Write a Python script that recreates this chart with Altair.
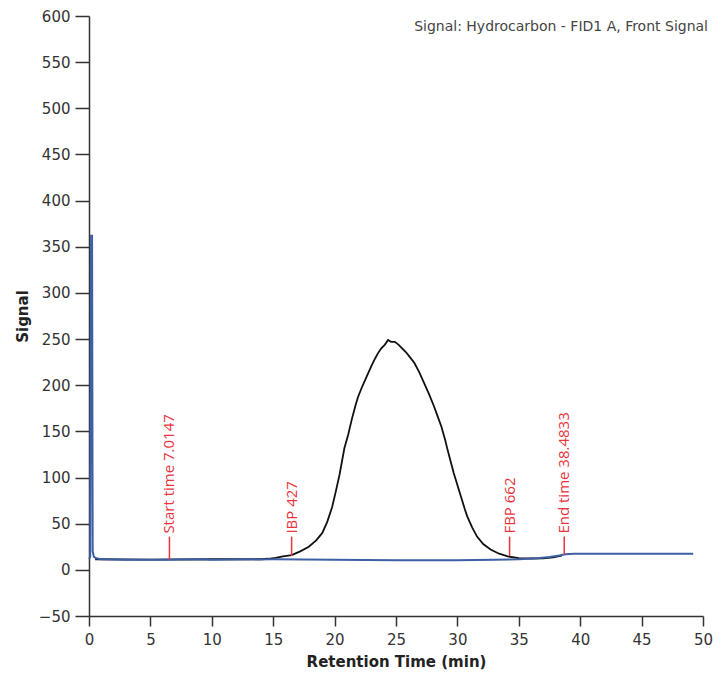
import altair as alt
import pandas as pd

# Black trace (sample signal with hump)
black_t = [0.5, 5.0, 10.0, 14.0, 14.6, 15.2, 15.8, 16.5, 17.2, 17.9, 18.5, 19.0, 19.4, 19.8, 20.1,
           20.4, 20.8, 21.1, 21.4, 21.7, 21.9, 22.2, 22.5, 22.7, 23.0, 23.3, 23.5, 23.8, 24.1,
           24.35, 24.6, 24.9, 25.2, 25.5, 25.8, 26.1, 26.5, 26.9, 27.3, 27.7, 28.1, 28.4, 28.7,
           29.0, 29.2, 29.5, 29.7, 30.0, 30.3, 30.6, 30.8, 31.2, 31.6, 32.1, 32.7, 33.4, 34.1,
           35.0, 36.0, 37.0, 37.8, 38.5]
black_s = [11.5, 11.0, 11.5, 11.5, 12.0, 13.0, 14.5, 16.0, 20.0, 25.0, 32.0, 40.0, 52.0, 68.0, 85.0,
           103.0, 132.0, 146.0, 163.0, 178.0, 187.0, 197.0, 206.0, 212.0, 221.0, 229.0, 234.0, 240.0, 244.0,
           249.0, 247.0, 247.0, 244.0, 240.0, 236.0, 231.0, 224.0, 214.0, 202.0, 190.0, 177.0, 166.0, 155.0,
           141.0, 130.0, 115.0, 105.0, 92.0, 79.0, 66.0, 58.0, 46.0, 36.0, 28.0, 22.0, 17.5, 14.5,
           12.8, 12.3, 12.5, 13.5, 15.5]

# Blue trace (blank baseline with injection spike)
blue_t = [0.0, 0.1, 0.17, 0.25, 0.3, 0.4, 0.6, 1.0, 3.0, 6.0, 9.0, 10.0, 15.0, 20.0, 25.0, 30.0,
          33.0, 35.0, 36.5, 37.5, 38.3, 38.8, 39.5, 45.0, 49.2]
blue_s = [12.0, 14.0, 362.0, 362.0, 20.0, 14.0, 12.5, 11.5, 11.0, 11.0, 11.5, 11.0, 11.5, 11.0, 10.5, 10.5,
          11.0, 11.5, 12.5, 14.0, 15.5, 17.0, 17.5, 17.5, 17.5]

# Red markers
marker_labels = ["Start time 7.0147", "IBP 427", "FBP 662", "End time 38.4833"]
marker_t = [6.55, 16.5, 34.25, 38.7]
marker_base = [11.0, 15.0, 15.0, 16.0]
marker_top = [36.0, 36.0, 36.0, 36.0]

signal_title = "Signal: Hydrocarbon - FID1 A, Front Signal"

black_df = pd.DataFrame({"t": black_t, "s": black_s})
blue_df = pd.DataFrame({"t": blue_t, "s": blue_s})
marker_df = pd.DataFrame({"t": marker_t, "base": marker_base, "top": marker_top, "label": marker_labels})

xscale = alt.Scale(domain=[0, 50], nice=False, zero=False)
yscale = alt.Scale(domain=[-50, 600], nice=False, zero=False)

xaxis = alt.Axis(title="Retention Time (min)", values=list(range(0, 51, 5)), tickSize=10,
                 labelFlush=False, grid=False, labelPadding=6, titlePadding=7)
yaxis = alt.Axis(title="Signal", values=list(range(-50, 601, 50)), tickSize=14,
                 grid=False, labelPadding=5, titlePadding=8)

black = alt.Chart(black_df).mark_line(color="#111111", strokeWidth=1.8).encode(
    x=alt.X("t:Q", scale=xscale, axis=xaxis),
    y=alt.Y("s:Q", scale=yscale, axis=yaxis),
    order="t:Q",
)

blue = alt.Chart(blue_df).mark_line(color="#3d5fa6", strokeWidth=2.0).encode(
    x=alt.X("t:Q", scale=xscale),
    y=alt.Y("s:Q", scale=yscale),
    order="t:Q",
)

rules = alt.Chart(marker_df).mark_rule(color="#e8343c", strokeWidth=1.5).encode(
    x=alt.X("t:Q", scale=xscale),
    y=alt.Y("base:Q", scale=yscale),
    y2="top:Q",
)

labels = alt.Chart(marker_df).mark_text(
    color="#e8343c", angle=270, align="left", baseline="middle",
    font="Open Sans", fontSize=15, dx=3,
).encode(
    x=alt.X("t:Q", scale=xscale),
    y=alt.Y("top:Q", scale=yscale),
    text="label:N",
)

title = alt.Chart(pd.DataFrame({"label": [signal_title]})).mark_text(
    align="right", baseline="middle", font="DejaVu Sans", fontSize=14, color="#444444",
).encode(
    x=alt.value(619), y=alt.value(11), text="label:N",
)

chart = alt.layer(black, blue, rules, labels, title).properties(
    width=614, height=600,
    autosize=alt.AutoSizeParams(type="none"),
    padding={"left": 81, "top": 8, "right": 10, "bottom": 58},
).configure_view(stroke=None).configure_axis(
    domainColor="#333333", domainWidth=1.5, tickColor="#333333", tickWidth=1.5,
    labelFont="DejaVu Sans", labelFontSize=15, labelColor="#333333",
    titleFont="DejaVu Sans", titleFontSize=15, titleFontWeight="bold", titleColor="#222222",
)

chart.save("out.html", embed_options={"renderer": "svg", "actions": False})
